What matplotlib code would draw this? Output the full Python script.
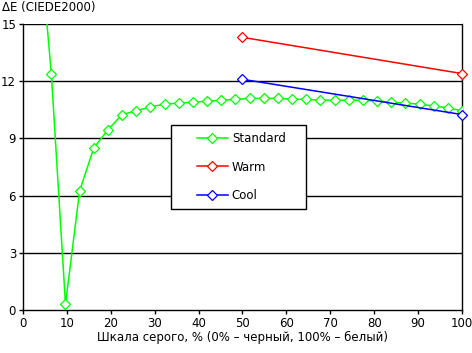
import numpy as np
import matplotlib
matplotlib.use('Agg')
import matplotlib.pyplot as plt
from matplotlib.patches import Rectangle

# grey scale steps, %
std_x = [3.23, 6.45, 9.68, 12.9, 16.13, 19.35, 22.58, 25.81, 29.03, 32.26, 35.48,
         38.71, 41.94, 45.16, 48.39, 51.61, 54.84, 58.06, 61.29, 64.52, 67.74,
         70.97, 74.19, 77.42, 80.65, 83.87, 87.1, 90.32, 93.55, 96.77, 100.0]
std_y = [20.9, 12.4, 0.3, 6.25, 8.5, 9.45, 10.25, 10.45, 10.65, 10.8, 10.85,
         10.9, 10.95, 11.0, 11.05, 11.1, 11.1, 11.1, 11.05, 11.05, 11.0,
         11.0, 11.0, 11.0, 10.95, 10.9, 10.85, 10.8, 10.7, 10.6, 10.45]
warm_x = [50, 100]
warm_y = [14.3, 12.4]
cool_x = [50, 100]
cool_y = [12.1, 10.25]

x_ticks = list(range(0, 101, 10))
y_ticks = [0, 3, 6, 9, 12, 15]

W, H = 472, 353
x0, x1, yb, yt = 23, 462, 310, 24  # plot area, pixels


def ax_xy(px, py):
    return (px - x0) / (x1 - x0), (yb - py) / (yb - yt)


plt.rcParams['font.family'] = 'DejaVu Sans'
fig = plt.figure(figsize=(W / 100, H / 100), dpi=100)
ax = fig.add_axes([x0 / W, (H - yb) / H, (x1 - x0) / W, (yb - yt) / H])

for yv in y_ticks[1:]:
    ax.axhline(yv, color='black', lw=1.0, zorder=1)

mk = dict(marker='D', markersize=5.3, markerfacecolor='white', markeredgewidth=0.9, lw=1.1)
ax.plot(std_x, std_y, color='#00ff00', label='Standard', zorder=3, **mk)
ax.plot(warm_x, warm_y, color='#ff0000', label='Warm', zorder=3, clip_on=False, **mk)
ax.plot(cool_x, cool_y, color='#0000ff', label='Cool', zorder=3, clip_on=False, **mk)

ax.set_xlim(0, 100)
ax.set_ylim(0, 15)
ax.set_xticks(x_ticks)
ax.set_yticks(y_ticks)
ax.tick_params(axis='both', labelsize=8.5, length=3, width=1, color='black', pad=2)
for s in ['left', 'bottom', 'right']:
    ax.spines[s].set_color('black')
    ax.spines[s].set_linewidth(1)
ax.spines['top'].set_visible(False)

ax.set_xlabel('Шкала серого, % (0% – черный, 100% – белый)', fontsize=8.5, labelpad=1)
fig.text(2 / W, 1 - 8 / H, 'ΔE (CIEDE2000)', fontsize=8.5, va='center', ha='left')

# legend box
bx0, by0 = ax_xy(171, 209)
bx1, by1 = ax_xy(306, 125)
ax.add_patch(Rectangle((bx0, by0), bx1 - bx0, by1 - by0, transform=ax.transAxes,
                       facecolor='white', edgecolor='black', lw=1, zorder=5))
leg = ax.legend(loc='center left', bbox_to_anchor=ax_xy(197, 167),
                fontsize=8.5, frameon=False, borderpad=0, borderaxespad=0,
                labelspacing=1.3, handlelength=2.6, handletextpad=0.35)
leg.set_zorder(6)

fig.savefig('out.png', dpi=100)
